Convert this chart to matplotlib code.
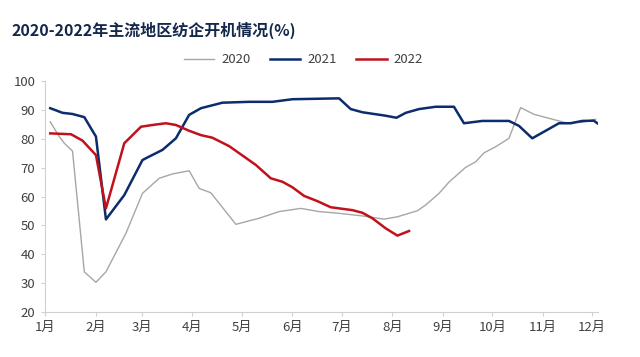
import matplotlib as mpl
mpl.use('Agg')
import numpy as np
import matplotlib.pyplot as plt

plt.rcParams['font.family'] = ['Noto Sans CJK SC', 'DejaVu Sans']

# x = day of year (0 = 1月1日), y = 开机率 %
day2020 = [3.2, 8.7, 11.8, 16.8, 24.0, 31.1, 37.2, 49.4, 59.5, 69.7, 77.8, 88.0,
           94.1, 101.2, 116.5, 130.7, 142.9, 156.1, 167.3, 179.5, 193.7, 207.0,
           215.1, 227.3, 232.4, 240.5, 246.6, 256.8, 262.9, 268.0, 275.1, 283.2,
           290.3, 298.4, 307.6, 317.8, 327.9, 336.1]
val2020 = [85.8, 80.7, 78.4, 75.7, 34.0, 30.4, 34.0, 47.3, 61.1, 66.3, 67.8, 68.9,
           62.8, 61.3, 50.4, 52.5, 54.8, 55.9, 54.8, 54.2, 53.3, 52.2,
           53.0, 55.1, 57.1, 61.1, 65.0, 70.1, 72.0, 75.1, 77.2, 80.1,
           90.7, 88.4, 87.0, 85.5, 85.6, 86.7]

day2021 = [3.2, 10.7, 16.8, 24.0, 31.1, 37.2, 48.4, 59.5, 63.6, 71.7, 79.9, 88.0,
           95.2, 108.3, 124.6, 138.8, 151.0, 179.5, 186.6, 193.7, 208.0, 214.5,
           220.2, 228.3, 238.5, 249.6, 255.7, 266.9, 283.2, 289.3, 297.4, 313.7,
           320.8, 327.9, 335.0, 337.1]
val2021 = [90.5, 88.9, 88.5, 87.4, 80.7, 52.1, 60.5, 72.6, 73.8, 76.1, 80.1, 88.2,
           90.5, 92.4, 92.7, 92.7, 93.6, 93.9, 90.2, 89.1, 87.9, 87.2,
           88.9, 90.2, 91.0, 91.0, 85.3, 86.1, 86.1, 84.4, 80.1, 85.3,
           85.3, 86.1, 86.2, 85.3]

day2022 = [3.2, 15.9, 22.9, 31.1, 37.2, 48.4, 58.6, 65.6, 73.8, 79.9, 88.0, 95.2,
           102.2, 112.4, 128.7, 137.8, 144.9, 151.0, 158.2, 166.3, 174.4, 187.6,
           193.7, 199.8, 208.0, 215.1, 222.2]
val2022 = [81.8, 81.5, 79.3, 74.3, 55.9, 78.4, 84.1, 84.7, 85.3, 84.7, 82.7, 81.2,
           80.3, 77.4, 70.9, 66.3, 65.1, 63.2, 60.2, 58.4, 56.3, 55.3,
           54.4, 52.5, 49.0, 46.5, 48.1]

month_start = [0, 31, 59, 90, 120, 151, 181, 212, 243, 273, 304, 334]
month_labels = ['1月', '2月', '3月', '4月', '5月', '6月', '7月', '8月', '9月', '10月', '11月', '12月']

fig = plt.figure(figsize=(6.4, 3.57), dpi=100)
ax = fig.add_axes([0.0703, 0.125, 0.864, 0.649])

ax.plot(day2020, val2020, color='#a6a6a6', lw=1.0, label='2020')
ax.plot(day2021, val2021, color='#0b2c6e', lw=1.8, label='2021')
ax.plot(day2022, val2022, color='#c0121c', lw=1.8, label='2022')

ax.set_xlim(0, 337.5)
ax.set_ylim(20, 100)
ax.set_yticks(np.arange(20, 101, 10))
ax.set_xticks(month_start)
ax.set_xticklabels(month_labels)

for s in ['top', 'right']:
    ax.spines[s].set_visible(False)
for s in ['left', 'bottom']:
    ax.spines[s].set_color('#d0d0d0')
    ax.spines[s].set_linewidth(0.8)
ax.tick_params(axis='both', colors='#d0d0d0', labelcolor='#404040', labelsize=9.5, length=3)
ax.tick_params(axis='y', pad=4)

fig.text(0.018, 0.915, '2020-2022年主流地区纺企开机情况(%)', fontsize=11.5,
         fontweight='bold', color='#14284b', ha='left', va='center')

fig.legend(loc='center', bbox_to_anchor=(0.474, 0.832), ncol=3, frameon=False,
           fontsize=9.5, handlelength=2.3, handletextpad=0.5, columnspacing=1.5,
           labelcolor='#404040')

plt.savefig('out.png', dpi=100)
